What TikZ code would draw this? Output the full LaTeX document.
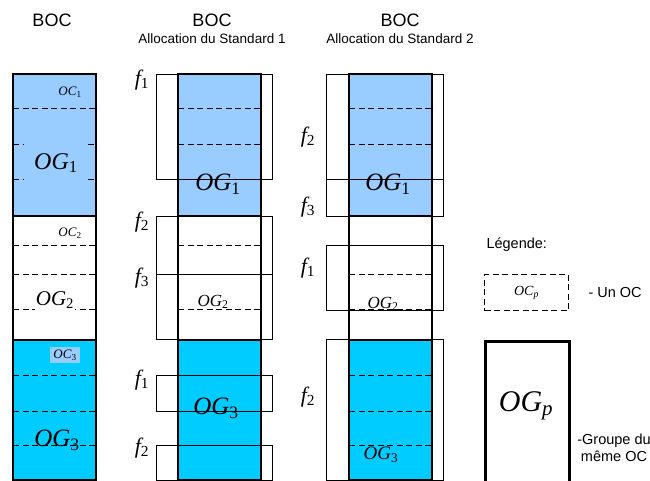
\documentclass[tikz,border=0pt]{standalone}
\usepackage{fontspec}
\setmainfont{Liberation Sans}
\newfontfamily\tms{Liberation Serif}
\usepackage{tikz}
\usetikzlibrary{positioning}

\definecolor{ogone}{RGB}{153,204,255}
\definecolor{ogthree}{RGB}{0,204,255}

\newcommand{\ogsym}[1]{{\tms\itshape OG\textsubscript{\upshape #1}}}
\newcommand{\ocsym}[1]{{\tms\itshape OC\textsubscript{\upshape #1}}}
\newcommand{\fsym}[1]{{\tms\itshape f\textsubscript{\upshape #1}}}

\begin{document}
\begin{tikzpicture}[
    x=1pt, y=-1pt,
    group/.style={draw, line width=2.6pt},
    fbox/.style={draw, line width=0.7pt},
    sep/.style={draw, line width=1pt, dash pattern=on 6pt off 3.5pt},
    head/.style={font=\fontsize{18}{18}\selectfont},
    sub/.style={font=\fontsize{13.5}{14}\selectfont},
    legtxt/.style={font=\fontsize{14.5}{17}\selectfont},
    oglbl/.style={inner sep=1pt, font=\fontsize{#1}{#1}\selectfont},
    oclbl/.style={inner sep=1pt, font=\fontsize{13}{13}\selectfont},
    flbl/.style={inner sep=0pt, font=\fontsize{22}{22}\selectfont}
]
    \clip (0,0) rectangle (650,481);
    \fill[white] (0,0) rectangle (650,481);

    % Headers
    \node[head] (bocA) at (52,20) {BOC};
    \node[head] (bocB) at (212,20) {BOC};
    \node[sub, below=0pt of bocB] (stdB) {Allocation du Standard 1};
    \node[head] (bocC) at (400,20) {BOC};
    \node[sub, below=0pt of bocC] (stdC) {Allocation du Standard 2};

    % Group fills
    \fill[ogone] (13,74) rectangle (96,216);
    \fill[ogthree] (13,340) rectangle (96,480);
    \fill[ogone] (178,74) rectangle (261,216);
    \fill[ogthree] (178,340) rectangle (261,480);
    \fill[ogone] (349,74) rectangle (432,216);
    \fill[ogthree] (349,340) rectangle (432,480);

    % OC boundaries
    \draw[sep] (13,109) -- (96,109) (13,245) -- (96,245) (13,274) -- (96,274) (13,309) -- (96,309)
        (13,375) -- (96,375) (13,411) -- (96,411) (13,445) -- (96,445);
    \draw[sep] (13,145) -- (24,145) (88,145) -- (96,145) (13,180) -- (24,180) (88,180) -- (96,180);
    \draw[sep] (178,109) -- (261,109) (178,145) -- (261,145) (178,245) -- (261,245) (178,309) -- (261,309)
        (178,375) -- (261,375) (178,411) -- (261,411) (178,445) -- (261,445);
    \draw[sep] (349,109) -- (432,109) (349,145) -- (432,145) (349,274) -- (432,274) (349,309) -- (432,309)
        (349,375) -- (432,375) (349,411) -- (432,411) (349,445) -- (432,445);

    % Standard 1 frequencies
    \draw[fbox] (156,74) rectangle (272,179);
    \draw[fbox] (156,216) rectangle (272,274);
    \draw[fbox] (156,274) rectangle (272,339);
    \draw[fbox] (156,375) rectangle (272,411);
    \draw[fbox] (156,445) rectangle (272,480);

    % Standard 2 frequencies
    \draw[fbox] (326,74) rectangle (443,179);
    \draw[fbox] (326,179) rectangle (443,216);
    \draw[fbox] (326,245) rectangle (443,310);
    \draw[fbox] (326,339) rectangle (443,480);

    % Group outlines
    \draw[group] (13,74) rectangle (96,480) (13,216) -- (96,216) (13,340) -- (96,340);
    \draw[group] (178,74) rectangle (261,480) (178,216) -- (261,216) (178,340) -- (261,340);
    \draw[group] (349,74) rectangle (432,480) (349,216) -- (432,216) (349,340) -- (432,340);

    % BOC labels
    \node[oclbl] (ocA1) at (70,92) {\ocsym{1}};
    \node[oglbl=24, fill=ogone, minimum width=64pt, minimum height=38pt] (ogA1) at (56,163) {\ogsym{1}};
    \node[oclbl] (ocA2) at (70,233) {\ocsym{2}};
    \node[oglbl=21, fill=white] (ogA2) at (55,300) {\ogsym{2}};
    \node[oclbl, fill=ogone, inner sep=3pt] (ocA3) at (65,355) {\ocsym{3}};
    \node[oglbl=25] (ogA3) at (57,440) {\ogsym{3}};

    % Standard 1 labels
    \node[oglbl=25] (ogB1) at (218,184) {\ogsym{1}};
    \node[oglbl=17] (ogB2) at (213,302) {\ogsym{2}};
    \node[oglbl=25] (ogB3) at (216,408) {\ogsym{3}};
    \node[flbl] (fB1) at (142,80) {\fsym{1}};
    \node[flbl] (fB2) at (142,222) {\fsym{2}};
    \node[flbl] (fB3) at (142,278) {\fsym{3}};
    \node[flbl] (fB4) at (142,380) {\fsym{1}};
    \node[flbl] (fB5) at (142,448) {\fsym{2}};

    % Standard 2 labels
    \node[oglbl=25] (ogC1) at (388,184) {\ogsym{1}};
    \node[oglbl=17] (ogC2) at (383,304) {\ogsym{2}};
    \node[oglbl=19, fill=ogthree] (ogC3) at (381,455) {\ogsym{3}};
    \node[flbl] (fC1) at (308,137) {\fsym{2}};
    \node[flbl] (fC2) at (308,207) {\fsym{3}};
    \node[flbl] (fC3) at (308,268) {\fsym{1}};
    \node[flbl] (fC4) at (308,397) {\fsym{2}};

    % Legend
    \node[legtxt, anchor=west] (leg) at (483,245) {Légende:};
    \node[draw, line width=1pt, dash pattern=on 6pt off 3.5pt, minimum width=84pt, minimum height=36pt,
        anchor=north west, inner sep=1pt, font=\fontsize{14}{14}\selectfont] (legoc) at (484,274) {\ocsym{\textit{p}}};
    \node[legtxt, anchor=west] (legoctxt) at (585,293) {- Un OC};
    \node[group, minimum width=84pt, minimum height=150pt, anchor=north west] (legog) at (484,340) {};
    \node[oglbl=30] (legogtxt) at (526,406) {\ogsym{\textit{p}}};
    \node[legtxt, align=center] (leggrptxt) at (614,448) {-Groupe du\\même OC};
\end{tikzpicture}
\end{document}
